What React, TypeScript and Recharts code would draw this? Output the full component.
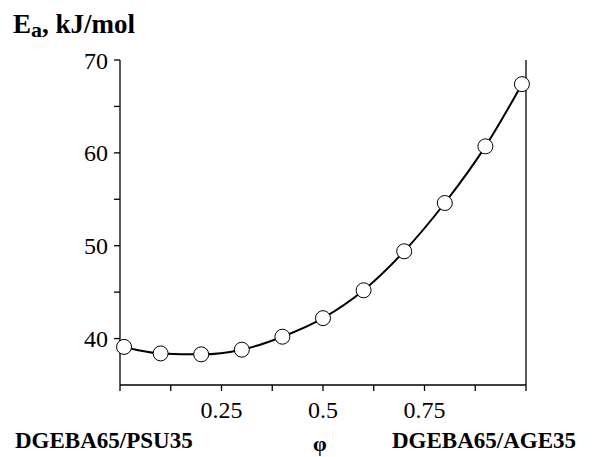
import { LineChart, Line, XAxis, YAxis, ReferenceLine } from "recharts";

const phi = [0.01, 0.1, 0.2, 0.3, 0.4, 0.5, 0.6, 0.7, 0.8, 0.9, 0.99];
const ea = [39.1, 38.4, 38.3, 38.8, 40.2, 42.2, 45.2, 49.4, 54.6, 60.7, 67.4];
const xTicks = [0, 0.125, 0.25, 0.375, 0.5, 0.625, 0.75, 0.875, 1];
const xLabels = [0.25, 0.5, 0.75];
const yTicks = [40, 45, 50, 55, 60, 65, 70];
const yLabels = [40, 50, 60, 70];

const data = phi.map((p, i) => ({ phi: p, ea: ea[i] }));

const font = "Liberation Serif";

export default function App() {
  return (
    <div style={{ position: "absolute", left: 0, top: 0, width: 608, height: 457, background: "#fff", fontFamily: font }}>
      <LineChart
        width={608}
        height={457}
        data={data}
        margin={{ top: 60, right: 82, left: 0, bottom: 32 }}
        style={{ fontFamily: font }}
      >
        <XAxis
          dataKey="phi"
          type="number"
          domain={[0, 1]}
          ticks={xTicks}
          tickFormatter={(v: number) => (xLabels.includes(v) ? String(v) : "")}
          height={40}
          tickSize={6}
          tickMargin={10}
          axisLine={{ stroke: "#000", strokeWidth: 1.3 }}
          tickLine={{ stroke: "#000", strokeWidth: 1.3 }}
          tick={{ fill: "#000", fontSize: 24, fontFamily: font }}
          interval={0}
        />
        <YAxis
          type="number"
          domain={[35, 70]}
          ticks={yTicks}
          tickFormatter={(v: number) => (yLabels.includes(v) ? String(v) : "")}
          width={120}
          tickSize={6}
          tickMargin={6}
          axisLine={{ stroke: "#000", strokeWidth: 1.3 }}
          tickLine={{ stroke: "#000", strokeWidth: 1.3 }}
          tick={{ fill: "#000", fontSize: 24, fontFamily: font }}
          interval={0}
        />
        <ReferenceLine x={1} stroke="#000" strokeWidth={1.3} />
        <Line
          dataKey="ea"
          type="monotone"
          stroke="#000"
          strokeWidth={2}
          dot={{ r: 7.5, fill: "#fff", stroke: "#000", strokeWidth: 1 }}
          activeDot={false}
          isAnimationActive={false}
        />
      </LineChart>
      <svg
        width={608}
        height={457}
        style={{ position: "absolute", left: 0, top: 0, pointerEvents: "none", fontFamily: font }}
      >
        <text x={13} y={33} fontSize={27} fontWeight="bold" fill="#000">
          E<tspan fontSize={22} dy={4}>a</tspan>
          <tspan dy={-4}>, kJ/mol</tspan>
        </text>
        <text x={15} y={448} fontSize={23} fontWeight="bold" fill="#000">
          DGEBA65/PSU35
        </text>
        <text x={313} y={451} fontSize={22} fontWeight="bold" fill="#000">
          φ
        </text>
        <text x={392} y={448} fontSize={23} fontWeight="bold" fill="#000">
          DGEBA65/AGE35
        </text>
      </svg>
    </div>
  );
}
